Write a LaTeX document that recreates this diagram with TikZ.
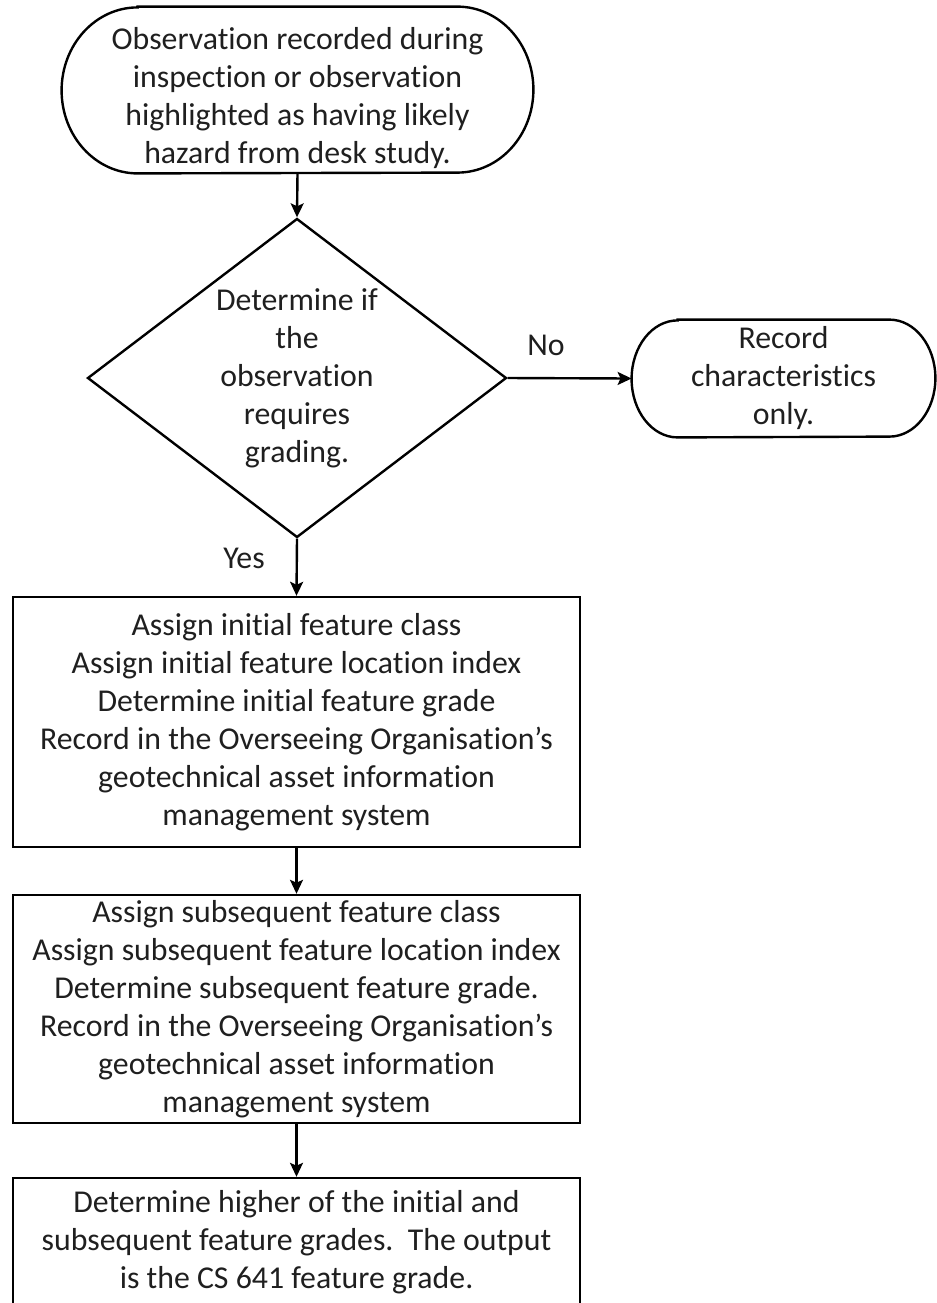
\documentclass[tikz,border=0pt]{standalone}
\usepackage{fontspec}
\setmainfont{Carlito}[RawFeature={-liga;-clig;-calt;-dlig}]
\usetikzlibrary{shapes.geometric,arrows.meta}
\begin{document}
\begin{tikzpicture}[x=0.5pt,y=-0.5pt,
  every node/.style={font=\fontsize{15.9pt}{19pt}\selectfont, inner sep=0pt, align=center, text=black!88},
  line/.style={line width=1.2pt, black},
  arr/.style={line width=1.2pt, black, -{Stealth[length=7pt,width=6.5pt,inset=1.5pt]}},
  procbox/.style={draw, line width=1.2pt, minimum width=283.5pt},
  decision/.style={draw, diamond, line width=1.2pt, shape aspect=1.3, minimum width=209.5pt, minimum height=159.5pt}
]
\useasboundingbox (0,0) rectangle (937,1303);

% top terminal
\node[minimum width=235.5pt, minimum height=83pt] (top) at (297.5,90) {};
\node (toptxt) at (297.5,98) {Observation recorded during\\inspection or observation\\highlighted as having likely\\hazard from desk study.};
\draw[line] ([xshift=38pt]top.north west) -- ([xshift=-38pt]top.north east)
  arc[start angle=90, end angle=-90, x radius=38pt, y radius=41.5pt]
  -- ([xshift=38pt]top.south west)
  arc[start angle=270, end angle=90, x radius=38pt, y radius=41.5pt] -- cycle;

% decision
\node[decision] (dec) at (297,378) {Determine if\\the\\observation\\requires\\grading.};

% right terminal
\node[minimum width=151.5pt, minimum height=58.5pt] (rec) at (783.5,378.5) {Record\\characteristics\\only.};
\draw[line] ([xshift=23pt]rec.north west) -- ([xshift=-23pt]rec.north east)
  arc[start angle=90, end angle=-90, x radius=23pt, y radius=29.25pt]
  -- ([xshift=23pt]rec.south west)
  arc[start angle=270, end angle=90, x radius=23pt, y radius=29.25pt] -- cycle;

% boxes
\node[procbox, minimum height=125pt] (b1) at (296.5,722) {Assign initial feature class\\Assign initial feature location index\\Determine initial feature grade\\Record in the Overseeing Organisation’s\\geotechnical asset information\\management system};
\node[procbox, minimum height=114pt] (b2) at (296.5,1009) {Assign subsequent feature class\\Assign subsequent feature location index\\Determine subsequent feature grade.\\Record in the Overseeing Organisation’s\\geotechnical asset information\\management system};
\node[procbox, minimum height=64pt] (b3) at (296.5,1242) {Determine higher of the initial and\\subsequent feature grades.\ \ The output\\is the CS 641 feature grade.};

% labels
\node (no) at (546,345) {No};
\node (yes) at (244,558) {Yes};

% connectors
\draw[arr] (top.south) -- (dec.north);
\draw[arr] (dec.east) -- (rec.west);
\draw[arr] (dec.south) -- (b1.north);
\draw[arr] (b1.south) -- (b2.north);
\draw[arr] (b2.south) -- (b3.north);
\end{tikzpicture}
\end{document}
